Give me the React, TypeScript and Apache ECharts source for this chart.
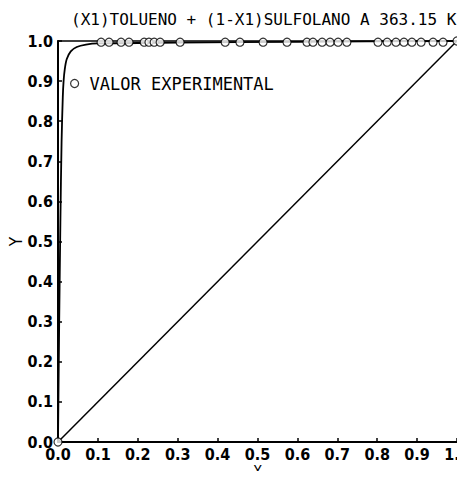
import React, { useEffect, useRef } from "react";
import * as echarts from "echarts";

const titleText = "(X1)TOLUENO + (1-X1)SULFOLANO A 363.15 K";
const legendName = "VALOR EXPERIMENTAL";

// experimental points (x1, y1)
const expX = [
  0.0, 0.108, 0.128, 0.158, 0.178, 0.216, 0.228, 0.241, 0.256, 0.306, 0.419, 0.456,
  0.514, 0.574, 0.624, 0.639, 0.662, 0.682, 0.702, 0.724, 0.802, 0.825, 0.847,
  0.867, 0.887, 0.91, 0.94, 0.965, 1.0,
];
const expY = [
  0.0, 0.997, 0.997, 0.997, 0.997, 0.997, 0.997, 0.997, 0.997, 0.997, 0.997, 0.997,
  0.997, 0.997, 0.997, 0.997, 0.997, 0.997, 0.997, 0.997, 0.997, 0.997, 0.997,
  0.997, 0.997, 0.997, 0.997, 0.997, 1.0,
];

// calculated equilibrium curve
const calcX = [0, 0.003, 0.006, 0.009, 0.012, 0.014, 0.017, 0.022, 0.032, 0.047, 0.07, 0.1, 0.3, 0.6, 1.0];
const calcY = [0, 0.3, 0.55, 0.75, 0.86, 0.9, 0.93, 0.955, 0.974, 0.985, 0.991, 0.994, 0.996, 0.998, 1.0];

// diagonal y = x
const diagX = [0, 1];
const diagY = [0, 1];

const labelFont = "'Liberation Sans Narrow', 'DejaVu Sans Condensed', sans-serif";
const monoFont = "'DejaVu Sans Mono', monospace";

export default function App() {
  const ref = useRef<HTMLDivElement>(null);
  useEffect(() => {
    if (!ref.current) return;
    const chart = echarts.init(ref.current, undefined, { renderer: "svg" });
    const zip = (xs: number[], ys: number[]) => xs.map((x, i) => [x, ys[i]]);
    const fmt = (v: number) => v.toFixed(1);
    chart.setOption({
      animation: false,
      backgroundColor: "#fff",
      title: {
        text: titleText,
        left: 66,
        top: 6,
        textStyle: { fontFamily: monoFont, fontSize: 16, fontWeight: "normal", color: "#000" },
      },
      legend: {
        data: [legendName],
        left: 65,
        top: 70,
        icon: "circle",
        itemWidth: 20,
        itemHeight: 8,
        itemStyle: { color: "#fff", borderColor: "#000", borderWidth: 1.2 },
        textStyle: { fontFamily: monoFont, fontSize: 17, color: "#000" },
      },
      grid: { left: 58, right: 8, top: 41, bottom: 37, containLabel: false, outerBoundsMode: "none" },
      xAxis: [
        {
          type: "value",
          min: 0,
          max: 1,
          interval: 0.1,
          name: "X",
          nameLocation: "middle",
          nameGap: 22,
          nameMoveOverlap: false,
          nameTextStyle: { fontFamily: labelFont, fontSize: 15, color: "#000", verticalAlign: "top", lineHeight: 15 },
          axisLine: { show: true, onZero: false, lineStyle: { color: "#000", width: 2 } },
          axisTick: { show: true, inside: true, length: 4, lineStyle: { color: "#000", width: 1.5 } },
          axisLabel: { fontFamily: labelFont, fontSize: 16, fontWeight: "bold", color: "#000", margin: 4, formatter: fmt },
          splitLine: { show: false },
        },
        {
          type: "value",
          position: "top",
          min: 0,
          max: 1,
          axisLine: { show: true, onZero: false, lineStyle: { color: "#000", width: 1.5 } },
          axisTick: { show: false },
          axisLabel: { show: false },
          splitLine: { show: false },
        },
      ],
      yAxis: [
        {
          type: "value",
          min: 0,
          max: 1,
          interval: 0.1,
          name: "Y",
          nameLocation: "middle",
          nameRotate: 90,
          nameGap: 34,
          nameMoveOverlap: false,
          nameTextStyle: { fontFamily: labelFont, fontSize: 17, color: "#000" },
          axisLine: { show: true, onZero: false, lineStyle: { color: "#000", width: 2 } },
          axisTick: { show: true, inside: true, length: 4, lineStyle: { color: "#000", width: 1.5 } },
          axisLabel: { fontFamily: labelFont, fontSize: 16, fontWeight: "bold", color: "#000", margin: 5, formatter: fmt },
          splitLine: { show: false },
        },
        {
          type: "value",
          position: "right",
          min: 0,
          max: 1,
          axisLine: { show: true, onZero: false, lineStyle: { color: "#000", width: 1, type: [6, 3, 1, 3] } },
          axisTick: { show: false },
          axisLabel: { show: false },
          splitLine: { show: false },
        },
      ],
      series: [
        {
          name: "Diagonal",
          type: "line",
          data: zip(diagX, diagY),
          showSymbol: false,
          lineStyle: { color: "#000", width: 1.5 },
          z: 2,
        },
        {
          name: "Calculado",
          type: "line",
          data: zip(calcX, calcY),
          showSymbol: false,
          smooth: 0.3,
          lineStyle: { color: "#000", width: 1.8 },
          z: 3,
        },
        {
          name: legendName,
          type: "scatter",
          data: zip(expX, expY),
          symbol: "circle",
          symbolSize: 8,
          itemStyle: { color: "#fff", borderColor: "#000", borderWidth: 1.2 },
          z: 4,
        },
      ],
    });
    return () => chart.dispose();
  }, []);
  return <div ref={ref} style={{ width: 465, height: 479, margin: -8 }} />;
}
